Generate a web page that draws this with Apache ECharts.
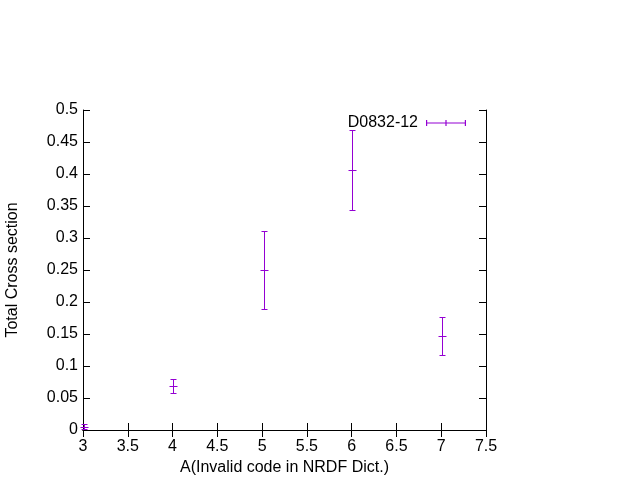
<!DOCTYPE html>
<html><head><meta charset="utf-8">
<script src="https://cdn.jsdelivr.net/npm/echarts@6/dist/echarts.min.js"></script>
<style>html,body{margin:0;padding:0;background:#fff}#c{width:640px;height:480px}</style>
</head><body><div id="c"></div>
<script>
var seriesName = 'D0832-12';
var xValues = [3.01, 4.01, 5.02, 6.0, 7.01];
var yValues = [0.005, 0.069, 0.250, 0.406, 0.147];
var yErrors = [0.004, 0.011, 0.061, 0.062, 0.030];
var xTitle = 'A(Invalid code in NRDF Dict.)';
var yTitle = 'Total Cross section';
var color = '#9400d3';
var font = 'Liberation Sans, Arial, sans-serif';

var data = xValues.map(function (x, i) { return [x, yValues[i], yErrors[i]]; });

var chart = echarts.init(document.getElementById('c'), null, {renderer: 'canvas'});
function axisCommon(show, margin) {
  return {
    axisLine: {show: true, lineStyle: {color: '#000', width: 1}},
    axisTick: {show: true, inside: true, length: 7, lineStyle: {color: '#000'}},
    splitLine: {show: false},
    axisLabel: {show: show, margin: margin, color: '#000', fontSize: 16, fontFamily: font}
  };
}
chart.setOption({
  animation: false,
  backgroundColor: '#fff',
  grid: {left: 83, right: 154, top: 110, bottom: 50, containLabel: false, outerBoundsMode: 'none'},
  legend: {
    show: true, right: 174, top: 115, align: 'right', padding: 0,
    itemWidth: 40, itemHeight: 6, itemGap: 8,
    textStyle: {color: '#000', fontSize: 16, fontFamily: font, padding: [0, 3, 0, 0]},
    data: [{name: seriesName, icon: 'path://M0,0h12v60h-12z M388,0h12v60h-12z M194,0h12v60h-12z M0,24h400v12h-400z'}]
  },
  xAxis: [
    Object.assign({type: 'value', min: 3, max: 7.5, interval: 0.5, position: 'bottom',
      name: xTitle, nameLocation: 'middle', nameGap: 30,
      nameTextStyle: {color: '#000', fontSize: 16, fontFamily: font}}, axisCommon(true, 9)),
    Object.assign({type: 'value', min: 3, max: 7.5, interval: 0.5, position: 'top'}, axisCommon(false, 6))
  ],
  yAxis: [
    Object.assign({type: 'value', min: 0, max: 0.5, interval: 0.05, position: 'left',
      name: yTitle, nameLocation: 'middle', nameGap: 62,
      nameTextStyle: {color: '#000', fontSize: 16, fontFamily: font}}, axisCommon(true, 5)),
    Object.assign({type: 'value', min: 0, max: 0.5, interval: 0.05, position: 'right'}, axisCommon(false, 5))
  ],
  series: [{
    name: seriesName,
    type: 'custom',
    xAxisIndex: 0, yAxisIndex: 0,
    itemStyle: {color: color},
    data: data,
    clip: false,
    renderItem: function (params, api) {
      var x = api.value(0), y = api.value(1), e = api.value(2);
      var c = api.coord([x, y]);
      var t = api.coord([x, y + e]);
      var b = api.coord([x, y - e]);
      var px = Math.round(c[0]) + 0.5;
      var cy = Math.round(c[1]) + 0.5, ty = Math.round(t[1]) + 0.5, by = Math.round(b[1]) + 0.5;
      var st = {stroke: color, lineWidth: 1, fill: null};
      var cw = 3, pw = 4;
      return {type: 'group', children: [
        {type: 'line', shape: {x1: px, y1: ty, x2: px, y2: by}, style: st},
        {type: 'line', shape: {x1: px-cw, y1: ty, x2: px+cw, y2: ty}, style: st},
        {type: 'line', shape: {x1: px-cw, y1: by, x2: px+cw, y2: by}, style: st},
        {type: 'line', shape: {x1: px-pw, y1: cy, x2: px+pw, y2: cy}, style: st}
      ]};
    }
  }]
});
</script></body></html>
